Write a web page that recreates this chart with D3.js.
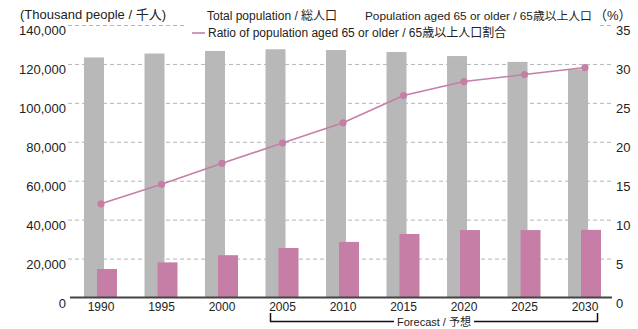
<!DOCTYPE html>
<html><head><meta charset="utf-8">
<script src="https://cdn.jsdelivr.net/npm/d3@7"></script>
<style>
html,body{margin:0;padding:0;background:#fff;}
svg{display:block;font-family:"Liberation Sans",Arial,"Noto Sans CJK JP",sans-serif;}
</style></head>
<body><svg id="c" width="638" height="329"></svg>
<script>
const years = ["1990","1995","2000","2005","2010","2015","2020","2025","2030"];
const totalPop = [123600,125600,126900,127800,127400,126400,124300,121300,117500];
const aged65 = [14900,18300,22000,25700,28800,32900,34900,34900,35000];
const ratio65 = [12.1,14.6,17.3,19.9,22.5,26.0,27.8,28.7,29.6];
const leftTicks = [0,20000,40000,60000,80000,100000,120000,140000];
const rightTicks = [0,5,10,15,20,25,30,35];
const forecastFrom = "2005", forecastTo = "2030";

const svg = d3.select("#c");
const x = d3.scaleBand().domain(years).range([70.75,615.25]).paddingInner(0).paddingOuter(0);
const cx = d => x(d) + x.bandwidth()/2;
const yL = d3.scaleLinear().domain([0,140000]).range([298,25.5]);
const yR = d3.scaleLinear().domain([0,35]).range([298,25.5]);
const barW = 20;
const grayC = "#b8b8b8", pink = "#c67ea7", txt = "#222";

// gridlines
svg.append("g").selectAll("line").data(leftTicks.filter(d=>d>0)).join("line")
  .attr("x1",68).attr("x2",612).attr("y1",d=>yL(d)).attr("y2",d=>yL(d))
  .attr("stroke","#b5b5b5").attr("stroke-width",1).attr("stroke-dasharray","4,3");

// legend background
svg.append("rect").attr("x",186).attr("y",3).attr("width",413).attr("height",40).attr("fill","#fff");

// bars
svg.append("g").selectAll("rect").data(years).join("rect")
  .attr("x",(d)=>cx(d)-17).attr("width",barW)
  .attr("y",(d,i)=>yL(totalPop[i])).attr("height",(d,i)=>yL(0)-yL(totalPop[i]))
  .attr("fill",grayC);
svg.append("g").selectAll("rect").data(years).join("rect")
  .attr("x",(d)=>cx(d)-4).attr("width",barW)
  .attr("y",(d,i)=>yL(aged65[i])).attr("height",(d,i)=>yL(0)-yL(aged65[i]))
  .attr("fill",pink);

// baseline
svg.append("line").attr("x1",70).attr("x2",612).attr("y1",297.5).attr("y2",297.5)
  .attr("stroke","#444").attr("stroke-width",2);

// line
const line = d3.line().x((d,i)=>cx(years[i])).y(d=>yR(d));
svg.append("path").datum(ratio65).attr("d",line).attr("fill","none")
  .attr("stroke",pink).attr("stroke-width",1.6);
svg.append("g").selectAll("circle").data(ratio65).join("circle")
  .attr("cx",(d,i)=>cx(years[i])).attr("cy",d=>yR(d)).attr("r",3.6).attr("fill",pink);

// left axis labels
const fmt = d3.format(",");
svg.append("g").selectAll("text").data(leftTicks).join("text")
  .attr("x",66).attr("y",d=>yL(d)+9.5).attr("text-anchor","end")
  .attr("font-size",13).attr("fill",txt).text(d=>fmt(d));
// right axis labels
svg.append("g").selectAll("text").data(rightTicks).join("text")
  .attr("x",616).attr("y",d=>yR(d)+9.5).attr("text-anchor","start")
  .attr("font-size",13).attr("fill",txt).text(d=>d);
// x labels
svg.append("g").selectAll("text").data(years).join("text")
  .attr("x",d=>cx(d)).attr("y",310.5).attr("text-anchor","middle")
  .attr("font-size",12).attr("fill",txt).text(d=>d);

// titles
svg.append("text").attr("x",20).attr("y",19).attr("font-size",13).attr("fill",txt)
  .text("(Thousand people / 千人)");
svg.append("text").attr("x",594).attr("y",20).attr("font-size",13).attr("fill",txt)
  .text("（%）");

// legend
svg.append("text").attr("x",207).attr("y",20).attr("font-size",12).attr("fill",txt)
  .text("Total population / 総人口");
svg.append("text").attr("x",365).attr("y",20).attr("font-size",11.8).attr("fill",txt)
  .text("Population aged 65 or older / 65歳以上人口");
svg.append("line").attr("x1",192).attr("x2",205).attr("y1",33).attr("y2",33)
  .attr("stroke",pink).attr("stroke-width",1.6);
svg.append("text").attr("x",208).attr("y",37).attr("font-size",12).attr("fill",txt)
  .text("Ratio of population aged 65 or older / 65歳以上人口割合");

// forecast bracket
const bx1 = cx(forecastFrom)-12, bx2 = cx(forecastTo)+12.5;
svg.append("path").attr("d",`M${bx1},313V321.5H${bx2}V313`).attr("fill","none")
  .attr("stroke","#111").attr("stroke-width",1.5);
const ft = svg.append("text").attr("x",(bx1+bx2)/2).attr("y",325.5).attr("text-anchor","middle")
  .attr("font-size",11).attr("fill",txt).text("Forecast / 予想");
const bb = ft.node().getBBox();
svg.insert("rect", () => ft.node()).attr("x",bb.x-3).attr("y",316).attr("width",bb.width+6).attr("height",12).attr("fill","#fff");
</script></body></html>
